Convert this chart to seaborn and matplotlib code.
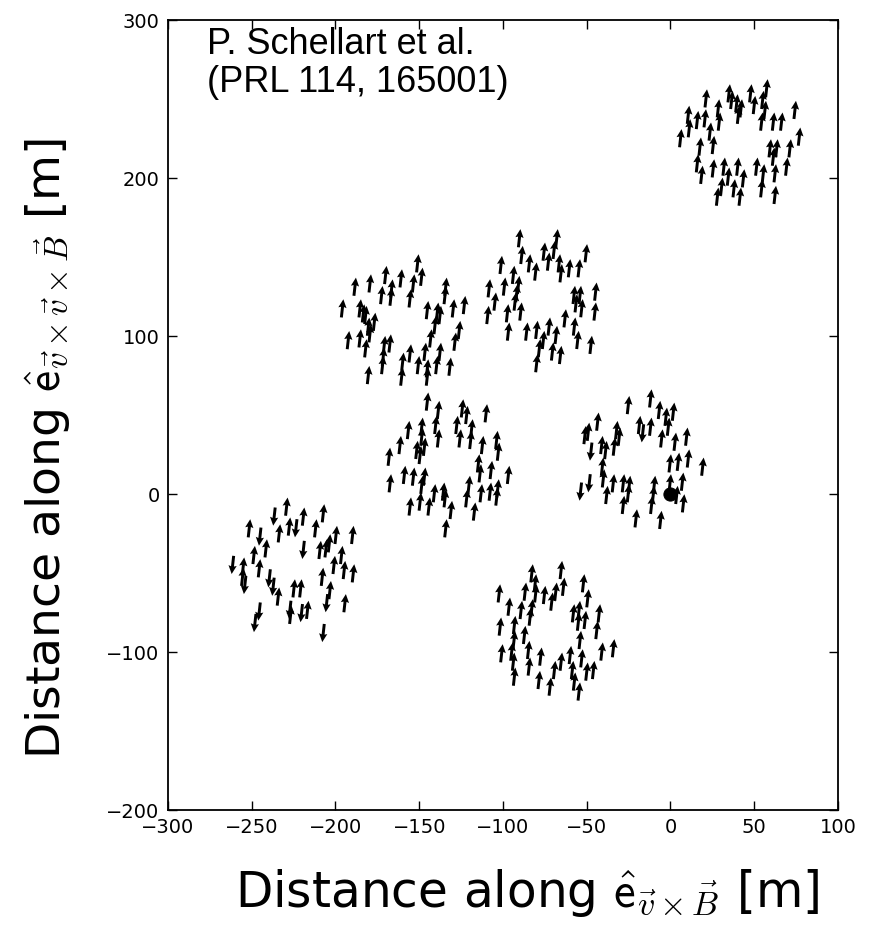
import numpy as np
import pandas as pd
import matplotlib
matplotlib.use("Agg")
import matplotlib.pyplot as plt
import seaborn as sns

# ---- station antenna positions (m) ----
st_tr_x = [57.4, 34.9, 47.8, 21.2, 36.5, 39.5, 55.0, 50.0, 42.1, 28.5, 56.4, 74.3, 10.6, 16.0, 20.6, 40.5,
           29.1, 61.4, 66.3, 54.4, 11.2, 6.0, 23.6, 76.9, 17.6, 25.5, 59.4, 63.4, 71.3, 61.4, 16.0, 25.5,
           31.9, 40.1, 51.4, 69.3, 18.6, 34.5, 43.5, 55.4, 62.4, 30.5, 37.9, 54.4, 28.0, 41.5, 62.4]
st_tr_y = [256.8, 253.6, 253.6, 250.4, 249.4, 247.3, 249.4, 246.2, 244.1, 244.1, 243.1, 243.1, 240.0, 236.7,
           237.8, 240.0, 235.7, 235.7, 235.7, 235.7, 231.5, 225.2, 229.4, 226.2, 219.9, 220.9, 218.8, 218.8,
           218.8, 213.5, 209.3, 206.1, 207.2, 207.2, 207.2, 207.2, 202.0, 200.9, 199.8, 203.0, 203.0, 194.5,
           193.5, 193.5, 188.2, 188.2, 189.3]

st_ul_x = [-151.0, -148.6, -170.1, -160.9, -179.4, -188.4, -153.5, -166.5, -172.5, -166.9, -155.5, -134.2,
           -134.6, -195.9, -185.4, -182.0, -176.8, -145.2, -139.2, -137.6, -129.7, -123.1, -180.4, -179.4,
           -185.4, -192.4, -182.0, -170.9, -167.5, -143.2, -126.1, -128.7, -171.5, -155.5, -146.6, -137.6,
           -159.9, -150.6, -171.9, -139.6, -145.2, -131.7, -180.4, -160.5, -145.2, -140.6, -183.4]
st_ul_y = [146.0, 137.5, 138.6, 136.5, 133.3, 131.2, 133.3, 130.1, 125.9, 124.9, 123.8, 131.2, 125.9, 117.5,
           117.5, 113.3, 109.0, 116.4, 115.4, 113.3, 117.5, 119.6, 105.9, 101.7, 98.5, 97.4, 92.2, 94.3, 95.3,
           98.5, 103.8, 96.4, 86.9, 89.0, 90.0, 90.0, 83.7, 81.6, 81.6, 81.6, 79.5, 80.6, 75.3, 74.3, 74.3,
           106.9, 114.3]

st_um_x = [-90.2, -67.9, -88.8, -69.5, -75.5, -50.4, -101.2, -84.3, -72.9, -66.5, -80.5, -93.8, -65.4, -60.4,
           -54.6, -108.3, -99.2, -90.8, -104.8, -92.8, -109.1, -97.4, -89.4, -57.6, -54.0, -56.4, -53.0, -44.7,
           -45.1, -63.0, -96.8, -85.9, -79.9, -72.5, -57.4, -75.9, -68.3, -55.4, -47.5, -78.3, -70.5, -65.7,
           -79.9, -91.8]
st_um_y = [161.9, 161.9, 151.3, 154.5, 153.4, 152.4, 145.0, 146.0, 147.1, 146.0, 140.8, 138.7, 139.7, 142.9,
           142.9, 130.2, 131.3, 132.3, 121.8, 121.8, 113.3, 114.4, 115.5, 126.0, 126.0, 120.7, 117.6, 128.1,
           115.5, 111.2, 102.8, 102.8, 103.9, 106.0, 106.0, 97.5, 100.7, 97.5, 94.4, 92.3, 90.2, 88.0, 82.8,
           127.1]

st_c_x = [-145.2, -138.6, -124.3, -121.7, -110.1, -156.5, -148.5, -140.2, -127.6, -118.7, -148.5, -138.6,
          -125.7, -119.3, -161.5, -151.5, -146.9, -112.3, -103.8, -168.0, -149.5, -102.8, -114.7, -107.1,
          -113.7, -96.8, -167.4, -158.9, -153.5, -146.9, -148.5, -135.6, -141.0, -134.6, -120.3, -113.1,
          -107.7, -103.1, -103.7, -121.7, -149.5, -155.5, -144.2, -131.0, -117.1, -134.2]
st_c_y = [58.5, 53.2, 54.2, 50.0, 51.1, 40.5, 42.6, 43.7, 43.7, 41.6, 36.3, 35.2, 35.2, 34.2, 31.0, 27.9, 29.9,
          31.0, 34.2, 23.6, 24.7, 26.8, 19.4, 15.2, 13.1, 12.1, 6.8, 12.1, 11.0, 11.0, 5.8, 1.5, 0.5, -2.7, 5.8,
          0.5, 1.5, 3.6, -1.6, -2.7, -4.8, -7.9, -7.9, -10.1, -11.1, -21.7]

st_r_x = [-11.9, -25.2, -6.7, 1.7, -2.7, -43.5, -18.6, -11.9, -1.3, -51.1, -49.1, -32.2, -30.6, -16.6, -5.3,
          9.6, 2.7, -41.1, -33.6, -47.5, -38.7, -0.3, 4.6, 10.6, 19.2, -40.7, -40.1, -34.2, -28.2, -24.6,
          -48.5, -53.7, -38.1, -9.7, -0.3, 7.1, -25.2, -10.3, 7.7, -28.2, -11.3, -20.6, -5.9, 3.7]
st_r_y = [60.5, 56.3, 53.2, 52.1, 48.9, 45.8, 43.7, 42.6, 42.6, 37.3, 39.4, 40.5, 36.3, 38.4, 35.2, 36.3, 33.1,
          31.0, 30.0, 26.8, 27.8, 19.4, 20.4, 22.5, 17.3, 17.3, 9.9, 6.8, 6.8, 5.8, 6.8, 1.5, -0.6, 5.8, 6.8,
          7.8, 0.5, -0.6, -5.9, -6.9, -6.9, -15.4, -16.4, -0.6]
st_r_dir = [1, 1, 1, 1, 1, 1, 1, 1, 1, 1, 1, 1, 1, -1, 1, 1, 1, 1, 1, -1, 1, 1, 1, 1, 1, 1, 1, 1, 1, 1,
            -1, -1, 1, 1, 1, 1, 1, 1, 1, 1, 1, 1, 1, 1]

st_bl_x = [-229.2, -207.3, -219.2, -251.5, -236.6, -233.6, -227.6, -223.6, -211.9, -199.7, -189.8, -245.1,
           -241.5, -248.7, -219.2, -209.3, -205.7, -203.7, -196.4, -261.4, -255.1, -245.5, -200.9, -194.8,
           -189.4, -207.9, -254.1, -239.5, -237.2, -234.2, -224.8, -220.8, -203.3, -205.3, -194.4, -245.5,
           -227.2, -226.8, -220.3, -216.7, -248.1, -207.3, -255.5]
st_bl_y = [-8.0, -12.2, -14.3, -21.7, -14.3, -24.9, -20.6, -21.7, -21.7, -25.9, -25.9, -27.0, -34.4, -38.6,
           -35.4, -35.4, -34.4, -31.2, -38.6, -44.9, -45.9, -47.0, -44.9, -48.1, -50.2, -52.4, -57.6, -53.4,
           -58.7, -64.9, -59.7, -59.7, -60.8, -69.1, -69.1, -74.4, -73.3, -76.5, -75.4, -73.3, -81.7, -88.0,
           -52.4]
st_bl_dir = [1, 1, 1, 1, -1, 1, 1, -1, 1, 1, 1, -1, 1, 1, -1, 1, 1, 1, 1, -1, 1, 1, 1, 1, 1, 1, -1, -1,
             -1, 1, 1, 1, 1, -1, 1, -1, -1, 1, -1, 1, -1, -1, 1]

st_bm_x = [-82.8, -65.3, -80.8, -52.0, -102.3, -86.8, -80.5, -75.3, -68.5, -63.9, -70.9, -49.4, -96.4, -89.2,
           -82.8, -83.8, -58.0, -54.6, -51.0, -42.6, -101.7, -93.2, -55.0, -44.0, -87.2, -93.4, -54.0, -100.8,
           -94.8, -84.8, -77.5, -93.8, -84.4, -65.3, -59.9, -53.0, -41.0, -34.1, -69.3, -58.6, -50.0, -46.0,
           -93.2, -78.5, -71.9, -57.4, -54.6]
st_bm_y = [-50.2, -48.1, -56.5, -56.5, -62.9, -61.8, -62.9, -63.9, -61.8, -58.7, -68.1, -66.0, -71.3, -73.4,
           -72.3, -77.6, -75.5, -73.4, -79.7, -75.5, -83.9, -82.9, -80.8, -86.1, -89.2, -92.4, -92.4, -100.8,
           -99.7, -98.7, -102.9, -106.1, -109.2, -106.1, -101.9, -104.0, -99.7, -97.6, -111.4, -111.4, -112.4,
           -111.4, -115.6, -117.7, -121.9, -118.7, -125.0]

core_x = [0.0]
core_y = [0.0]

x_ticks = [-300, -250, -200, -150, -100, -50, 0, 50, 100]
y_ticks = [-200, -100, 0, 100, 200, 300]

# ---- build table ----
stations = [
    (st_tr_x, st_tr_y, None),
    (st_ul_x, st_ul_y, None),
    (st_um_x, st_um_y, None),
    (st_c_x, st_c_y, None),
    (st_r_x, st_r_y, st_r_dir),
    (st_bl_x, st_bl_y, st_bl_dir),
    (st_bm_x, st_bm_y, None),
]
rows = []
for i, (xs, ys, ds) in enumerate(stations):
    if ds is None:
        ds = [1] * len(xs)
    for x, y, d in zip(xs, ys, ds):
        rows.append((i, x, y, d))
df = pd.DataFrame(rows, columns=["station", "x", "y", "dir"])

sns.set_style("ticks")
plt.rcParams["mathtext.fontset"] = "cm"
plt.rcParams["font.family"] = ["DejaVu Sans"]
plt.rcParams["text.color"] = "black"
plt.rcParams["axes.labelcolor"] = "black"

fig = plt.figure(figsize=(8.74, 9.32), dpi=100)
ax = fig.add_axes([168 / 874, 1 - 810 / 932, 670 / 874, 790 / 932])

ax.quiver(df["x"], df["y"], 1.2 * df["dir"], 11.5 * df["dir"],
          angles="xy", scale_units="xy", scale=1, pivot="mid",
          color="black", width=0.0044, headwidth=2.8, headlength=2.9,
          headaxislength=2.6, zorder=3)
sns.scatterplot(x=core_x, y=core_y, ax=ax, color="black", s=90,
                edgecolor="black", zorder=4, legend=False)

ax.set_xlim(-300, 100)
ax.set_ylim(-200, 300)
ax.set_xticks(x_ticks)
ax.set_yticks(y_ticks)
ax.tick_params(direction="in", length=6.5, width=1, top=True, right=True,
               labelsize=14, pad=6, colors="black")
for s in ax.spines.values():
    s.set_visible(True)
    s.set_linewidth(1.3)
    s.set_color("black")

ax.set_xlabel(r"Distance along $\hat{\mathsf{e}}_{\vec{v}\times\vec{B}}$ [m]", fontsize=35, va="center",
              color="black")
ax.set_ylabel(r"Distance along $\hat{\mathsf{e}}_{\vec{v}\times\vec{v}\times\vec{B}}$ [m]", fontsize=34,
              va="center", color="black")
ax.xaxis.set_label_coords(0.536, -0.105)
ax.yaxis.set_label_coords(-0.178, 0.458)

fig.text(207 / 874, 1 - 27 / 932, "P. Schellart et al.\n(PRL 114, 165001)",
         family="Liberation Sans", fontsize=26, va="top", ha="left", linespacing=1.1,
         color="black")

fig.savefig("out.png", dpi=100, facecolor="white")
